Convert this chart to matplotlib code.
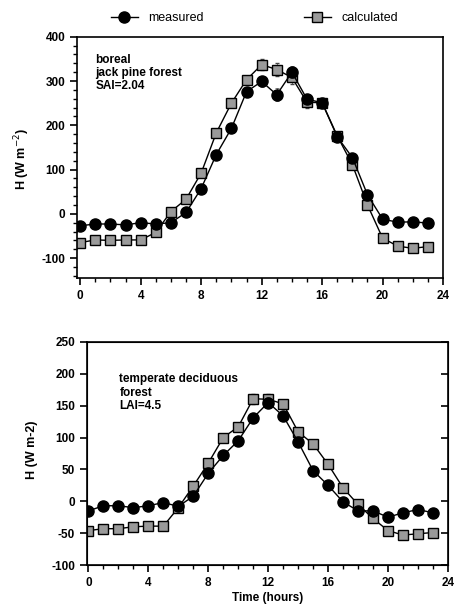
import numpy as np
import matplotlib.pyplot as plt
from matplotlib.ticker import MultipleLocator
from matplotlib.lines import Line2D

plt.rcParams['font.family'] = ['Liberation Sans', 'DejaVu Sans']

hours = list(range(24))

# boreal jack pine forest
boreal_meas = [-27, -23, -23, -25, -20, -23, -20, 3, 57, 134, 193, 276,
               299, 269, 320, 259, 251, 174, 127, 43, -12, -19, -18, -21]
boreal_calc = [-65, -59, -60, -59, -59, -42, 5, 33, 92, 183, 250, 303,
               337, 326, 308, 252, 251, 176, 111, 20, -55, -73, -78, -74]
boreal_err = [0, 0, 0, 0, 0, 0, 0, 0, 0, 0, 5, 8,
              12, 15, 14, 12, 6, 6, 5, 0, 0, 0, 0, 0]

# temperate deciduous forest
decid_meas = [-15, -7, -7, -10, -7, -2, -8, 8, 44, 72, 95, 131,
              155, 134, 93, 48, 25, -1, -15, -15, -25, -18, -13, -18]
decid_calc = [-46, -43, -43, -40, -39, -39, -10, 24, 60, 100, 117, 161,
              160, 153, 109, 90, 58, 21, -5, -27, -46, -53, -51, -49]
decid_err = [0, 0, 0, 0, 0, 0, 0, 0, 4, 6, 6, 8,
             8, 6, 6, 6, 4, 0, 0, 0, 0, 0, 0, 0]

fig = plt.figure(figsize=(4.54, 6.13), dpi=100)
ax1 = fig.add_axes([0.170, 0.5465, 0.806, 0.3935])
ax2 = fig.add_axes([0.1916, 0.0783, 0.795, 0.3638])

tick_font = dict(fontsize=8.5, fontweight='bold')


def draw(ax, meas, calc, err):
    ax.errorbar(hours, meas, yerr=err, color='black', lw=1.0, marker='o',
                ms=8, mfc='black', mec='black', capsize=1.5, elinewidth=0.5,
                capthick=0.5, ecolor='#444444', zorder=3)
    ax.errorbar(hours, calc, yerr=err, color='black', lw=1.0, marker='s',
                ms=6.5, mfc='#9a9a9a', mec='black', mew=1.0, capsize=1.5,
                elinewidth=0.5, capthick=0.5, ecolor='#444444', zorder=2)
    ax.xaxis.set_minor_locator(MultipleLocator(1))
    ax.tick_params(which='major', length=5, width=1.2)
    ax.tick_params(which='minor', length=3, width=1.0)
    for s in ax.spines.values():
        s.set_linewidth(1.2)


draw(ax1, boreal_meas, boreal_calc, boreal_err)
ax1.set_xlim(-0.2, 24)
ax1.set_ylim(-145, 400)
ax1.yaxis.set_minor_locator(MultipleLocator(20))
ax1.set_xticks(range(0, 25, 4))
ax1.set_xticklabels([str(v) for v in range(0, 25, 4)], **tick_font)
ax1.set_yticks(range(-100, 401, 100))
ax1.set_yticklabels([str(v) for v in range(-100, 401, 100)], **tick_font)
ax1.text(0.05, 0.93, "boreal\njack pine forest\nSAI=2.04", transform=ax1.transAxes,
         fontsize=8.5, fontweight='bold', va='top', ha='left', linespacing=1.15)

draw(ax2, decid_meas, decid_calc, decid_err)
ax2.set_xlim(-0.1, 24)
ax2.set_ylim(-100, 250)
ax2.set_xticks(range(0, 25, 4))
ax2.set_xticklabels([str(v) for v in range(0, 25, 4)], **tick_font)
ax2.set_yticks(range(-100, 251, 50))
ax2.set_yticklabels([str(v) for v in range(-100, 251, 50)], **tick_font)
ax2.text(0.09, 0.86, "temperate deciduous\nforest\nLAI=4.5", transform=ax2.transAxes,
         fontsize=8.5, fontweight='bold', va='top', ha='left', linespacing=1.15)
ax2.set_xlabel("Time (hours)", fontsize=8.5, fontweight='bold', labelpad=2)

# inward ticks on the right side of the lower panel
ax2r = ax2.twinx()
ax2r.set_ylim(ax2.get_ylim())
ax2r.set_yticks(range(-100, 251, 50))
ax2r.tick_params(axis='y', direction='in', length=5, width=1.2, labelright=False)

fig.text(0.048, 0.74, "H (W m$^{-2}$)", rotation=90, va='center', ha='center',
         fontsize=9, fontweight='bold')
fig.text(0.07, 0.266, "H (W m-2)", rotation=90, va='center', ha='center',
         fontsize=9, fontweight='bold')

handles = [Line2D([], [], color='black', lw=1.0, marker='o', ms=8, mfc='black'),
           Line2D([], [], color='black', lw=1.0, marker='s', ms=6.5,
                  mfc='#9a9a9a', mec='black')]
fig.legend(handles, ["measured", "calculated"], loc='center',
           bbox_to_anchor=(0.56, 0.97), ncol=2, frameon=False, fontsize=9,
           handlelength=2.2, columnspacing=8, handletextpad=0.8)

fig.savefig("out.png", dpi=100)
